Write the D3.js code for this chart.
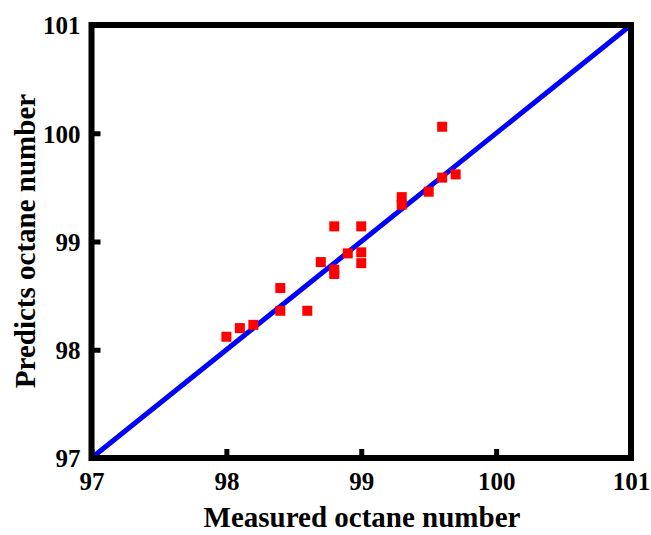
<!DOCTYPE html>
<html>
<head>
<meta charset="utf-8">
<script src="https://cdn.jsdelivr.net/npm/d3@7"></script>
<style>
  body { margin: 0; background: #fff; }
  text { font-family: "Liberation Serif", "Times New Roman", serif; font-weight: bold; }
</style>
</head>
<body>
<div id="vis"></div>
<script>
// measured vs predicted octane numbers
const measured = [98.0, 98.1, 98.2, 98.4, 98.4, 98.6, 98.7, 98.8, 98.8, 98.8, 98.9, 99.0, 99.0, 99.0, 99.3, 99.3, 99.5, 99.6, 99.6, 99.7];
const predicted = [98.12, 98.2, 98.23, 98.57, 98.36, 98.36, 98.81, 99.14, 98.74, 98.7, 98.89, 99.14, 98.9, 98.8, 99.41, 99.34, 99.46, 99.59, 100.06, 99.62];
const ticks = [97, 98, 99, 100, 101];
const domain = [97, 101];

let margin = { top: 25, left: 91.5, right: 20, bottom: 77 },
  width = 651 - margin.left - margin.right,
  height = 535 - margin.top - margin.bottom;

let svg = d3
  .select("#vis")
  .append("svg")
  .attr("width", 651)
  .attr("height", 535);

let g = svg.append("g").attr("transform", `translate(${margin.left},${margin.top})`);

let x = d3.scaleLinear().domain(domain).range([0, 539.5]);
let y = d3.scaleLinear().domain(domain).range([433, 0]);

// ticks (inward, left and bottom)
let xAxis = g.append("g")
  .attr("transform", `translate(0,${y(97)})`)
  .call(d3.axisBottom(x).tickValues(ticks).tickSize(-9).tickPadding(14).tickFormat(d3.format("d")));
let yAxis = g.append("g")
  .call(d3.axisLeft(y).tickValues(ticks).tickSize(-9).tickPadding(11).tickFormat(d3.format("d")));

[xAxis, yAxis].forEach(a => {
  a.select(".domain").remove();
  a.selectAll(".tick line").attr("stroke", "#000").attr("stroke-width", 5);
  a.selectAll(".tick text")
    .attr("fill", "#000")
    .style("font-size", "25px")
    .style("font-family", "Liberation Serif, Times New Roman, serif")
    .style("font-weight", "bold");
});
yAxis.selectAll(".tick text").attr("dy", "0.35em");

// 1:1 line
g.append("line")
  .attr("x1", x(97)).attr("y1", y(97))
  .attr("x2", x(101)).attr("y2", y(101))
  .attr("stroke", "#0000ff")
  .attr("stroke-width", 5)
  .attr("stroke-linecap", "round");

// points
const pts = measured.map((m, i) => [m, predicted[i]]);
g.selectAll("rect.pt")
  .data(pts)
  .enter()
  .append("rect")
  .attr("class", "pt")
  .attr("x", d => x(d[0]) - 5)
  .attr("y", d => y(d[1]) - 5)
  .attr("width", 10)
  .attr("height", 10)
  .attr("fill", "#ff0000");

// frame
g.append("rect")
  .attr("x", 0).attr("y", 0)
  .attr("width", x(101)).attr("height", y(97))
  .attr("fill", "none")
  .attr("stroke", "#000")
  .attr("stroke-width", 6);

// axis titles
svg.append("text")
  .attr("x", 362)
  .attr("y", 527)
  .attr("text-anchor", "middle")
  .style("font-size", "29px")
  .text("Measured octane number");

svg.append("text")
  .attr("transform", "translate(35,241) rotate(-90)")
  .attr("text-anchor", "middle")
  .style("font-size", "29px")
  .text("Predicts octane number");
</script>
</body>
</html>
